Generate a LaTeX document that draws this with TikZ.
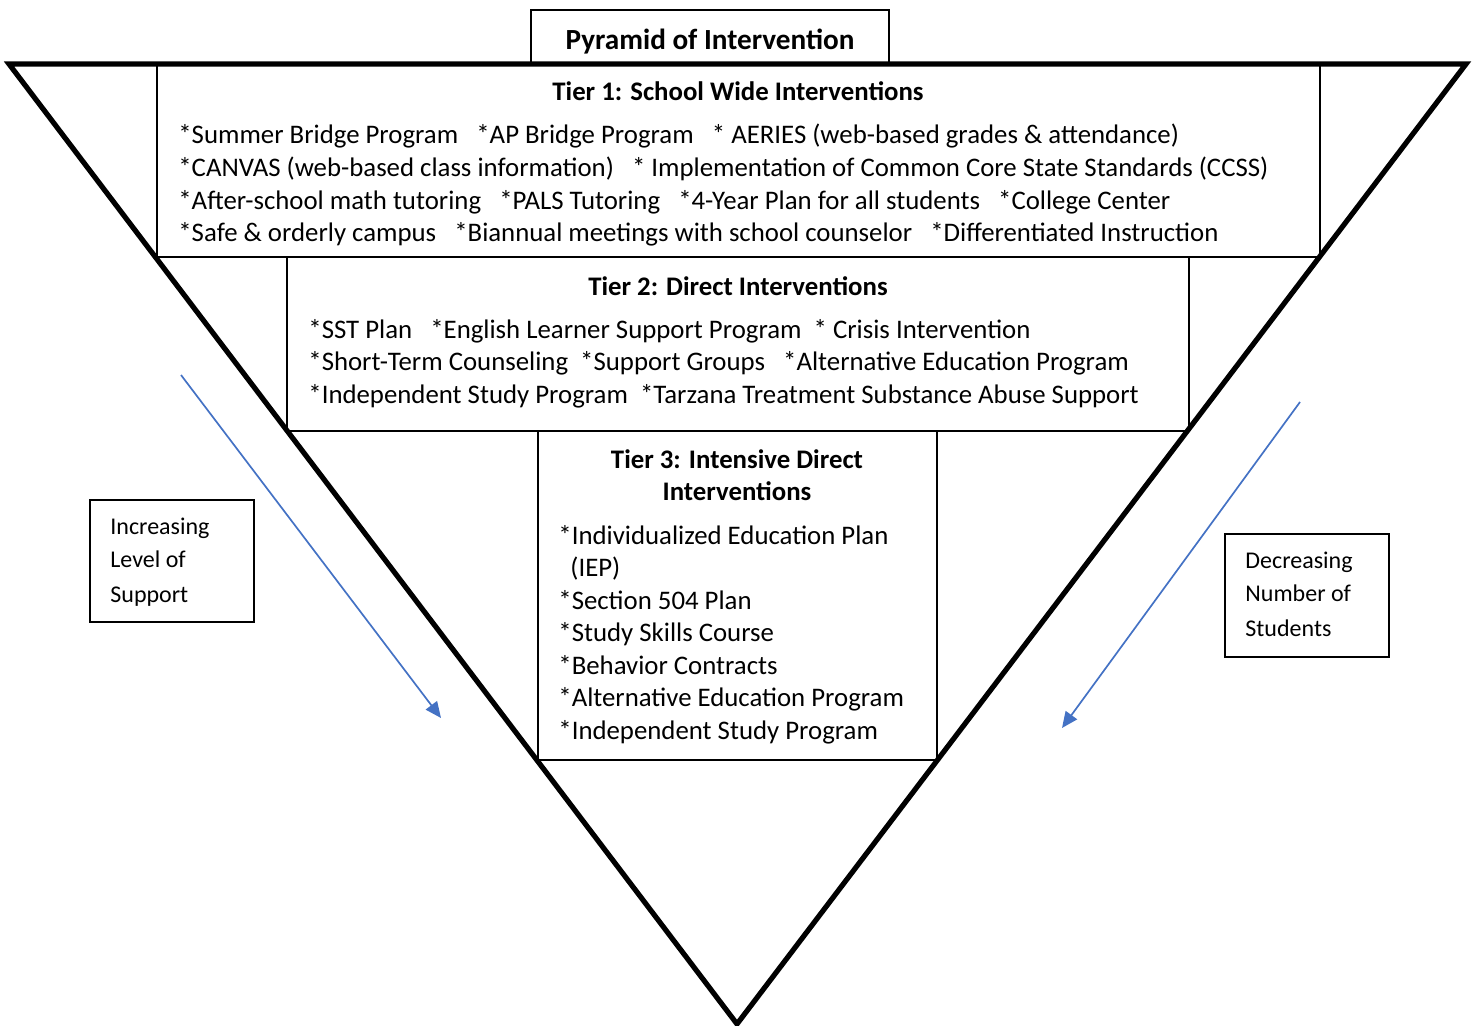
\documentclass[tikz,border=0pt]{standalone}
\usepackage{fontspec}
\setmainfont{Carlito}
\usetikzlibrary{arrows.meta,fit}
\definecolor{arrblue}{RGB}{68,114,196}
\begin{document}
\begin{tikzpicture}[x=0.5pt,y=-0.5pt,
  pyr/.style={line width=2.6pt, line join=miter},
  tierbox/.style={draw, line width=0.9pt, inner sep=0pt},
  titlebox/.style={draw, line width=0.7pt, inner sep=0pt},
  sidebox/.style={draw, line width=0.8pt, inner sep=0pt},
  body/.style={font=\fontsize{13.4pt}{16.5pt}\selectfont, anchor=base west, inner sep=0pt},
  head/.style={font=\fontsize{13.4pt}{16.5pt}\selectfont\bfseries, anchor=base, inner sep=0pt},
  side/.style={font=\fontsize{12pt}{16pt}\selectfont, anchor=base west, inner sep=0pt},
  flow/.style={draw=arrblue, line width=0.85pt, -{Triangle[length=8pt,width=7pt]}}]
\useasboundingbox (0,0) rectangle (1476,1026);

% boxes
\node (title) [titlebox, fit={(531,10) (889,64)}] {};
\node (tier1) [tierbox, fit={(157,64) (1320,257)}] {};
\node (tier2) [tierbox, fit={(287,257) (1189,431)}] {};
\node (tier3) [tierbox, fit={(538,431) (937,760)}] {};
\node (lbox) [sidebox, fit={(90,500) (254,622)}] {};
\node (rbox) [sidebox, fit={(1225,534) (1389,657)}] {};

% pyramid
\coordinate (pl) at (9,64);
\coordinate (pr) at (1466,64);
\coordinate (pb) at (737,1024);
\draw[pyr] (pl) -- (pr) -- (pb) -- cycle;

% title
\node[head, font=\fontsize{14.6pt}{17pt}\selectfont\bfseries] (ttl) at (710,50) {Pyramid of Intervention};

% tier 1
\node[head] (h1) at (738,101) {Tier 1: School Wide Interventions};
\node[body] (a1) at (178,144) {*Summer Bridge Program~~~*AP Bridge Program~~~* AERIES (web-based grades \& attendance)};
\node[body] (a2) at (178,177) {*CANVAS (web-based class information)~~~* Implementation of Common Core State Standards (CCSS)};
\node[body] (a3) at (178,210) {*After-school math tutoring~~~*PALS Tutoring~~~*4-Year Plan for all students~~~*College Center};
\node[body] (a4) at (178,242) {*Safe \& orderly campus~~~*Biannual meetings with school counselor~~~*Differentiated Instruction};

% tier 2
\node[head] (h2) at (738,296) {Tier 2: Direct Interventions};
\node[body] (b1) at (308,338) {*SST Plan~~~*English Learner Support Program~~* Crisis Intervention};
\node[body] (b2) at (308,371) {*Short-Term Counseling~~*Support Groups~~~*Alternative Education Program};
\node[body] (b3) at (308,403) {*Independent Study Program~~*Tarzana Treatment Substance Abuse Support};

% tier 3
\node[head] (h3a) at (737,468) {Tier 3: Intensive Direct};
\node[head] (h3b) at (737,500) {Interventions};
\node[body] (c1) at (558,544) {*Individualized Education Plan};
\node[body] (c2) at (570,576) {(IEP)};
\node[body] (c3) at (558,609) {*Section 504 Plan};
\node[body] (c4) at (558,641) {*Study Skills Course};
\node[body] (c5) at (558,674) {*Behavior Contracts};
\node[body] (c6) at (558,706) {*Alternative Education Program};
\node[body] (c7) at (558,739) {*Independent Study Program};

% side labels
\node[side] (l1) at (110,534) {Increasing};
\node[side] (l2) at (110,567) {Level of};
\node[side] (l3) at (110,602) {Support};
\node[side] (r1) at (1245,568) {Decreasing};
\node[side] (r2) at (1245,601) {Number of};
\node[side] (r3) at (1245,636) {Students};

% arrows
\coordinate (la) at (181,375);
\coordinate (lb) at (441,718);
\coordinate (ra) at (1300,402);
\coordinate (rb) at (1062,728);
\draw[flow] (la) -- (lb);
\draw[flow] (ra) -- (rb);
\end{tikzpicture}
\end{document}
